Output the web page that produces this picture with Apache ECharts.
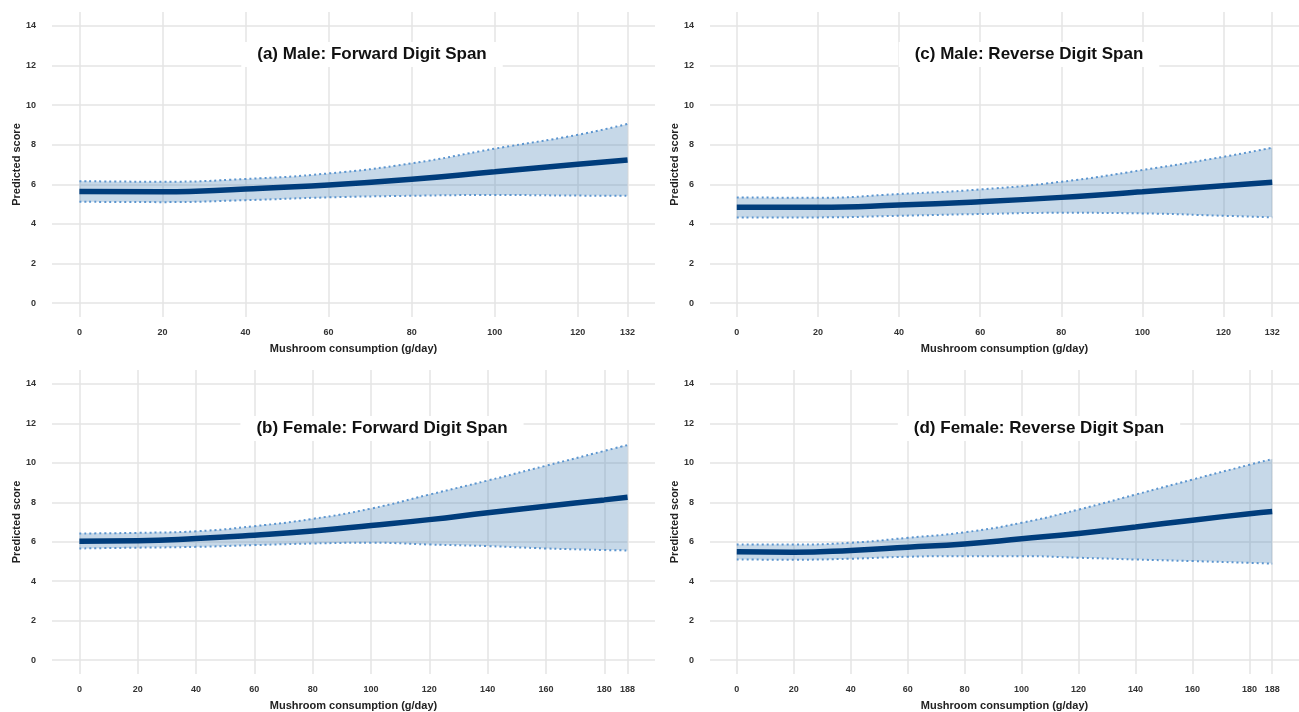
<!DOCTYPE html>
<html>
<head>
<meta charset="utf-8">
<script src="https://cdn.jsdelivr.net/npm/echarts@6/dist/echarts.min.js"></script>
<style>
  html, body { margin: 0; padding: 0; background: #fff; }
  #chart { width: 1299px; height: 712px; }
</style>
</head>
<body>
<div id="chart"></div>
<script>
// x values (g/day)
var xMale = [0, 20, 40, 60, 80, 100, 120, 132];
var xFemale = [0, 20, 40, 60, 80, 100, 120, 140, 160, 180, 188];
var yTicks = [0, 2, 4, 6, 8, 10, 12, 14];
var maleTicks = [0, 20, 40, 60, 80, 100, 120, 132];
var femaleTicks = [0, 20, 40, 60, 80, 100, 120, 140, 160, 180, 188];

// (a) male forward
var aMean = [5.64, 5.62, 5.76, 5.96, 6.25, 6.63, 7.01, 7.23];
var aUpper = [6.16, 6.13, 6.27, 6.55, 7.06, 7.8, 8.5, 9.05];
var aLower = [5.12, 5.1, 5.2, 5.34, 5.42, 5.46, 5.43, 5.42];
// (c) male reverse
var cMean = [4.84, 4.84, 4.95, 5.12, 5.34, 5.62, 5.93, 6.1];
var cUpper = [5.34, 5.32, 5.51, 5.74, 6.13, 6.72, 7.39, 7.85];
var cLower = [4.33, 4.33, 4.41, 4.5, 4.56, 4.53, 4.41, 4.33];
// (b) female forward
var bMean = [6.03, 6.05, 6.16, 6.33, 6.54, 6.82, 7.12, 7.47, 7.8, 8.12, 8.25];
var bUpper = [6.42, 6.45, 6.53, 6.79, 7.16, 7.68, 8.39, 9.1, 9.85, 10.6, 10.9];
var bLower = [5.66, 5.7, 5.74, 5.83, 5.91, 5.95, 5.86, 5.78, 5.66, 5.58, 5.56];
// (d) female reverse
var dMean = [5.49, 5.47, 5.56, 5.72, 5.89, 6.15, 6.42, 6.75, 7.09, 7.42, 7.53];
var dUpper = [5.86, 5.86, 5.95, 6.2, 6.48, 6.96, 7.63, 8.39, 9.15, 9.9, 10.19];
var dLower = [5.1, 5.09, 5.14, 5.24, 5.27, 5.27, 5.19, 5.1, 5.02, 4.93, 4.89];

var panels = [
  {title: '(a) Male: Forward Digit Span', x: xMale, ticks: maleTicks, max: 132, mean: aMean, up: aUpper, lo: aLower,
   left: 52, top: 12, tx: 356, ty: 42},
  {title: '(c) Male: Reverse Digit Span', x: xMale, ticks: maleTicks, max: 132, mean: cMean, up: cUpper, lo: cLower,
   left: 710, top: 12, tx: 1013, ty: 42},
  {title: '(b) Female: Forward Digit Span', x: xFemale, ticks: femaleTicks, max: 188, mean: bMean, up: bUpper, lo: bLower,
   left: 52, top: 370, tx: 366, ty: 416},
  {title: '(d) Female: Reverse Digit Span', x: xFemale, ticks: femaleTicks, max: 188, mean: dMean, up: dUpper, lo: dLower,
   left: 710, top: 370, tx: 1023, ty: 416}
];

var font = 'Liberation Sans Narrow, Liberation Sans, Arial, sans-serif';
var gridColor = '#e4e4e4';
var bandEdge = '#5b95cf';

// rows stored as [value, x] so the stack runs on the value dimension
function rows(xs, ys) {
  return xs.map(function (x, i) { return [ys[i], x]; });
}

var option = {
  backgroundColor: '#fff',
  animation: false,
  title: [], grid: [], xAxis: [], yAxis: [], series: []
};

panels.forEach(function (p, i) {
  var pad = p.max * 0.05;
  option.grid.push({left: p.left, top: p.top, width: 603, height: 305});
  option.xAxis.push({
    type: 'value', gridIndex: i, min: -pad, max: p.max + pad,
    name: 'Mushroom consumption (g/day)', nameLocation: 'middle', nameGap: 26,
    nameTextStyle: {fontFamily: font, fontWeight: 'bold', fontSize: 11, color: '#222'},
    axisLine: {show: false},
    axisTick: {show: false, customValues: p.ticks},
    axisLabel: {customValues: p.ticks, fontFamily: font, fontWeight: 'bold', fontSize: 9, color: '#333', margin: 11},
    splitLine: {show: true, lineStyle: {color: gridColor, width: 1.5}}
  });
  option.yAxis.push({
    type: 'value', gridIndex: i, min: -0.7, max: 14.7,
    name: 'Predicted score', nameLocation: 'middle', nameGap: 30,
    nameTextStyle: {fontFamily: font, fontWeight: 'bold', fontSize: 11, color: '#222'},
    axisLine: {show: false},
    axisTick: {show: false, customValues: yTicks},
    axisLabel: {customValues: yTicks, fontFamily: font, fontWeight: 'bold', fontSize: 9, color: '#333', margin: 16},
    splitLine: {show: true, lineStyle: {color: gridColor, width: 1.5}}
  });
  option.title.push({
    text: p.title, left: p.tx, top: p.ty, textAlign: 'center',
    backgroundColor: '#fff', padding: [4, 16],
    textStyle: {fontFamily: font, fontWeight: 'bold', fontSize: 17, color: '#111'}
  });

  var band = p.up.map(function (v, k) { return +(v - p.lo[k]).toFixed(3); });
  var enc = {x: 1, y: 0};
  option.series.push({
    type: 'line', xAxisIndex: i, yAxisIndex: i, stack: 'ci' + i, smooth: true, showSymbol: false,
    encode: enc, data: rows(p.x, p.lo),
    lineStyle: {color: bandEdge, width: 2, type: [2, 3]}
  });
  option.series.push({
    type: 'line', xAxisIndex: i, yAxisIndex: i, stack: 'ci' + i, smooth: true, showSymbol: false,
    encode: enc, data: rows(p.x, band),
    lineStyle: {color: bandEdge, width: 2, type: [2, 3]},
    areaStyle: {color: 'rgba(70,130,180,0.31)', opacity: 1}
  });
  option.series.push({
    type: 'line', xAxisIndex: i, yAxisIndex: i, smooth: true, showSymbol: false,
    encode: enc, data: rows(p.x, p.mean),
    lineStyle: {color: '#003d7c', width: 5.5}
  });
});

var chart = echarts.init(document.getElementById('chart'), null, {renderer: 'canvas'});
chart.setOption(option);
</script>
</body>
</html>
